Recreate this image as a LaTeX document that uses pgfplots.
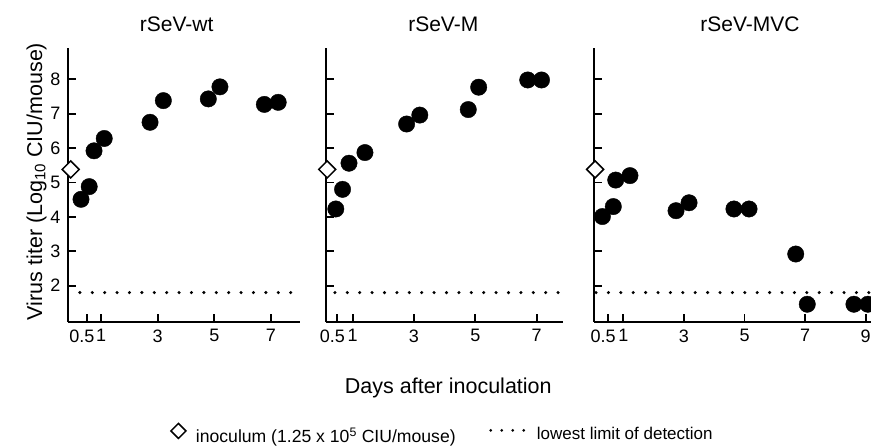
\documentclass[border=0pt]{standalone}
\usepackage{fontspec}
\setmainfont{Liberation Sans}
\usepackage{pgfplots}
\pgfplotsset{compat=1.18}

\pgfplotsset{
  panel/.style={
    scale only axis, height=274pt, ymin=0.944, ymax=8.91,
    axis x line*=bottom, axis y line*=left,
    axis line style={line width=2.2pt,-},
    tick style={line width=1.8pt,black},
    major tick length=8pt, tick align=inside,
    ytick={2,3,4,5,6,7,8},
    clip=false,
    tick label style={font=\fontsize{18}{18}\selectfont},
    /pgf/number format/assume math mode=true,
    xticklabel style={yshift=-4pt},
    yticklabel style={xshift=-4pt},
    xtick={0.5,1,3,5,7},
    xticklabels={\makebox[15pt][r]{0.5},1,3,5,7},
  },
  pts/.style={only marks, mark=*, mark size=8.2pt, black, mark options={fill=black, draw=black}, forget plot},
  lod/.style={black, dash pattern=on 0pt off 12.4pt, line cap=round, line width=3.4pt, forget plot},
  inoc/.style={only marks, mark=square*, mark size=6pt, mark options={rotate=45, fill=white, draw=black, line width=1.5pt}, forget plot},
}

\begin{document}
\begin{tikzpicture}
\useasboundingbox (0pt,0pt) rectangle (871pt,-446pt);

% ---------- Panel 1: rSeV-wt ----------
\begin{axis}[panel, at={(68pt,-322pt)}, anchor=south west, width=232pt,
  xmin=-0.17, xmax=8.03,
  legend style={at={(axis description cs:0.4397,-0.41)}, anchor=west, draw=none, fill=none,
    inner sep=0pt, font=\fontsize{17.6}{17.6}\selectfont, nodes={inner sep=2pt}}]
\addplot[pts] coordinates {
 (0.29,4.51) (0.58,4.88) (0.75,5.92) (1.11,6.28) (2.73,6.75)
 (3.20,7.38) (4.79,7.43) (5.20,7.78) (6.77,7.27) (7.26,7.33)};
\addplot[lod] coordinates {(0.25,1.8) (8.03,1.8)};
\addplot[inoc] coordinates {(-0.075,5.38)};
\addlegendimage{legend image code/.code={
  \path[draw=none,fill=none] (0pt,0pt) -- (23pt,0pt);
  \draw[black, line width=1.5pt, fill=white] (0pt,5pt) -- (7.5pt,12.5pt) -- (15pt,5pt) -- (7.5pt,-2.5pt) -- cycle;}}
\addlegendentry{inoculum (1.25 x 10\textsuperscript{5} CIU/mouse)}
\end{axis}

% ---------- Panel 2: rSeV-M ----------
\begin{axis}[panel, at={(325.7pt,-322pt)}, anchor=south west, width=237.6pt,
  xmin=0.12, xmax=7.87, yticklabels={}]
\addplot[pts] coordinates {
 (0.45,4.23) (0.67,4.80) (0.88,5.56) (1.40,5.87) (2.76,6.70)
 (3.19,6.96) (4.77,7.12) (5.11,7.77) (6.71,7.98) (7.16,7.98)};
\addplot[lod] coordinates {(0.42,1.8) (7.87,1.8)};
\addplot[inoc] coordinates {(0.17,5.38)};
\end{axis}

% ---------- Panel 3: rSeV-MVC ----------
\begin{axis}[panel, at={(594pt,-322pt)}, anchor=south west, width=277.8pt,
  xmin=0.033, xmax=9.2, yticklabels={},
  xtick={0.5,1,3,5,7,9},
  xticklabels={\makebox[15pt][r]{0.5},1,3,5,7,9},
  legend style={at={(axis description cs:-0.378,-0.41)}, anchor=west, draw=none, fill=none,
    inner sep=0pt, font=\fontsize{17}{17}\selectfont, nodes={inner sep=2pt}}]
\addplot[pts] coordinates {
 (0.31,4.01) (0.67,4.30) (0.75,5.07) (1.22,5.20) (2.74,4.18)
 (3.17,4.41) (4.65,4.23) (5.15,4.23) (6.69,2.92) (7.07,1.46)
 (8.61,1.46) (9.07,1.46)};
\addplot[lod] coordinates {(0.1,1.8) (9.2,1.8)};
\addplot[inoc] coordinates {(0.07,5.38)};
\addlegendimage{legend image code/.code={
  \path[draw=none,fill=none] (0pt,0pt) -- (45.7pt,0pt);
  \draw[black, dash pattern=on 0pt off 11pt, line cap=round, line width=3pt] (1.5pt,4pt) -- (34.6pt,4pt);}}
\addlegendentry{lowest limit of detection}
\end{axis}

% ---------- Titles and labels ----------
\node[anchor=base, font=\fontsize{21}{21}\selectfont] at (176.7pt,-31.7pt) {rSeV-wt};
\node[anchor=base, font=\fontsize{21}{21}\selectfont] at (443.3pt,-31.7pt) {rSeV-M};
\node[anchor=base, font=\fontsize{21}{21}\selectfont] at (750pt,-31.7pt) {rSeV-MVC};
\node[anchor=base, font=\fontsize{21.5}{21.5}\selectfont] at (448.3pt,-393.3pt) {Days after inoculation};
\node[anchor=base, rotate=90, font=\fontsize{21.5}{21.5}\selectfont] at (42pt,-181.5pt) {Virus titer (Log\textsubscript{10} CIU/mouse)};
\end{tikzpicture}
\end{document}
